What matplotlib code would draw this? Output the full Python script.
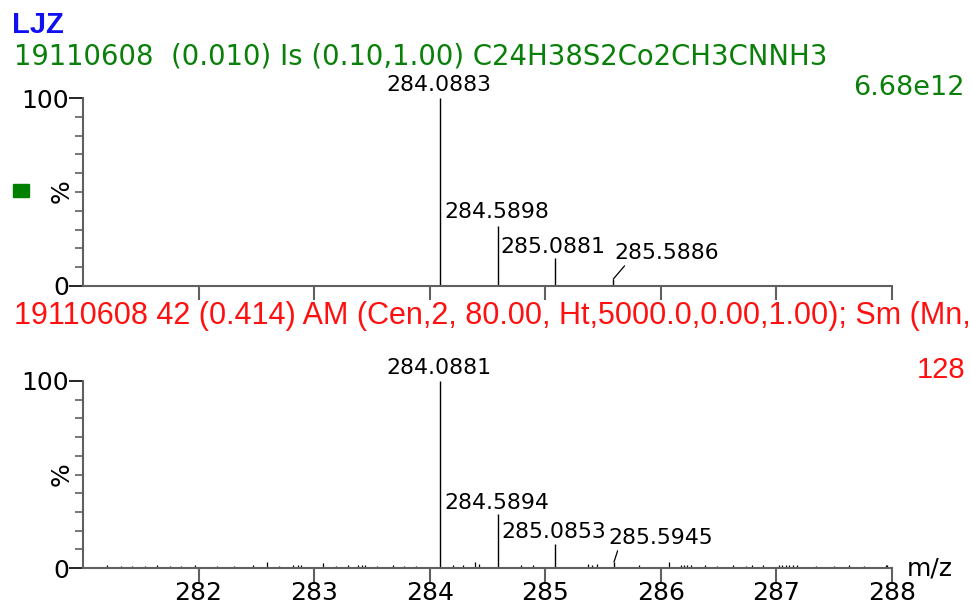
import matplotlib
matplotlib.use("Agg")
import matplotlib.pyplot as plt
from matplotlib.ticker import MultipleLocator

# spectrum 1: isotope model
mz_top = [284.0883, 284.5898, 285.0881, 285.5886]
int_top = [100, 32, 15, 3.7]
lab_top = ["284.0883", "284.5898", "285.0881", "285.5886"]
off_top = [(-1, 13), (-1, 14), (-3, 11), (53, 26)]

# spectrum 2: measured
mz_bot = [284.0881, 284.5894, 285.0853, 285.5945]
int_bot = [100, 29, 13, 3.2]
lab_bot = ["284.0881", "284.5894", "285.0853", "285.5945"]
off_bot = [(-1, 13), (-1, 11), (-1, 12), (47, 24)]

# small noise peaks in measured spectrum
noise_mz = [281.21, 281.33, 281.42, 281.54, 281.64, 281.75, 281.85, 281.97,
            282.16, 282.31, 282.47, 282.59, 282.70, 282.82, 282.86, 282.89,
            283.08, 283.19, 283.29, 283.38, 283.41, 283.44, 283.54, 283.68,
            283.78, 283.88, 284.20, 284.29, 284.39, 284.43, 284.79, 284.89,
            285.37, 285.40, 285.45, 285.81, 286.07, 286.17, 286.20, 286.23,
            286.26, 286.38, 286.49, 286.62, 286.74, 286.79, 286.88, 287.02,
            287.05, 287.08, 287.11, 287.14, 287.18, 287.34, 287.50, 287.63,
            287.76, 287.95, 287.96]
noise_int = [1.4, 1.2, 1.3, 1.2, 1.4, 1.3, 1.2, 1.4,
             1.3, 1.2, 1.4, 3.0, 1.3, 1.5, 1.6, 1.4,
             2.8, 1.3, 1.4, 1.5, 1.7, 1.4, 1.3, 1.4,
             1.3, 1.2, 1.6, 1.7, 3.2, 1.9, 1.4, 1.6,
             2.0, 1.8, 1.9, 1.6, 3.0, 1.6, 1.7, 1.6,
             1.6, 1.4, 1.3, 1.4, 1.3, 1.5, 1.4, 1.6,
             1.7, 1.6, 1.7, 1.6, 1.5, 1.3, 1.3, 1.4,
             1.3, 1.5, 1.5]

xticks = [282, 283, 284, 285, 286, 287, 288]

W, H = 971, 605
fig = plt.figure(figsize=(W / 100, H / 100), dpi=100)

def box(x0, x1, y0, y100):
    return [x0 / W, 1 - y0 / H, (x1 - x0) / W, (y0 - y100) / H]

axc = "#606060"
num_font = "DejaVu Sans"
narrow = ["Liberation Sans Narrow", "Liberation Sans"]

def setup(ax):
    ax.set_xlim(281, 288)
    ax.set_ylim(0, 100)
    for s in ["top", "right"]:
        ax.spines[s].set_visible(False)
    for s in ["left", "bottom"]:
        ax.spines[s].set_color(axc)
        ax.spines[s].set_linewidth(1.5)
    ax.set_xticks(xticks)
    ax.set_yticks([0, 100])
    ax.yaxis.set_minor_locator(MultipleLocator(10))
    ax.tick_params(axis="x", length=10, width=1.5, color=axc, labelsize=18, pad=-1)
    ax.tick_params(axis="y", which="major", length=10, width=1.2, color="black",
                   labelsize=18, pad=0)
    ax.tick_params(axis="y", which="minor", length=6, width=1.2, color=axc)
    for t in ax.get_xticklabels() + ax.get_yticklabels():
        t.set_family(num_font)
    ax.patch.set_alpha(0)

ax1 = fig.add_axes(box(83, 892, 286, 98))
setup(ax1)
ax1.tick_params(axis="x", labelbottom=False)
ax1.vlines(mz_top, 0, int_top, color="black", lw=1)
for m, h, s, o in zip(mz_top, int_top, lab_top, off_top):
    kw = {}
    if o[0] > 30:
        kw["arrowprops"] = dict(arrowstyle="-", lw=0.9, color="black",
                                relpos=(0.14, 0.1), shrinkA=0, shrinkB=0)
    ax1.annotate(s, (m, h), xytext=o, textcoords="offset pixels",
                 ha="center", va="center", fontsize=15.8, family=num_font, **kw)

ax2 = fig.add_axes(box(83, 892, 568, 381))
setup(ax2)
ax2.vlines(noise_mz, 0, noise_int, color="black", lw=0.9)
ax2.vlines(mz_bot, 0, int_bot, color="black", lw=1)
for m, h, s, o in zip(mz_bot, int_bot, lab_bot, off_bot):
    kw = {}
    if o[0] > 30:
        kw["arrowprops"] = dict(arrowstyle="-", lw=0.9, color="black",
                                relpos=(0.1, 0.1), shrinkA=0, shrinkB=0)
    ax2.annotate(s, (m, h), xytext=o, textcoords="offset pixels",
                 ha="center", va="center", fontsize=15.8, family=num_font, **kw)

# header texts
fig.text(12 / W, 1 - 25 / H, "LJZ", color="#1010f0", fontsize=21, weight="bold",
         family="Liberation Sans", va="center")
fig.text(14 / W, 1 - 57 / H, "19110608  (0.010) Is (0.10,1.00) C24H38S2Co2CH3CNNH3",
         color="#0a800a", fontsize=19.8, family="DejaVu Sans", va="center")
fig.text(965 / W, 1 - 88 / H, "6.68e12", color="#0a800a", fontsize=19.5,
         family="DejaVu Sans", va="center", ha="right")
fig.text(14 / W, 1 - 316 / H,
         "19110608 42 (0.414) AM (Cen,2, 80.00, Ht,5000.0,0.00,1.00); Sm (Mn,",
         color="#ff1010", fontsize=22, family=narrow, va="center")
fig.text(965 / W, 1 - 370 / H, "128", color="#ff1010", fontsize=21,
         family=narrow, va="center", ha="right")

fig.text(62 / W, 1 - 191 / H, "%", rotation=90, fontsize=18, family=num_font,
         ha="center", va="center")
fig.text(62 / W, 1 - 474 / H, "%", rotation=90, fontsize=18, family=num_font,
         ha="center", va="center")
fig.text(930 / W, 1 - 569 / H, "m/z", fontsize=18, family=num_font,
         ha="center", va="center")
fig.patches.append(plt.Rectangle((13 / W, 1 - 197 / H), 16 / W, 13 / H,
                                 transform=fig.transFigure, color="#008000"))

fig.savefig("out.png", dpi=100)
